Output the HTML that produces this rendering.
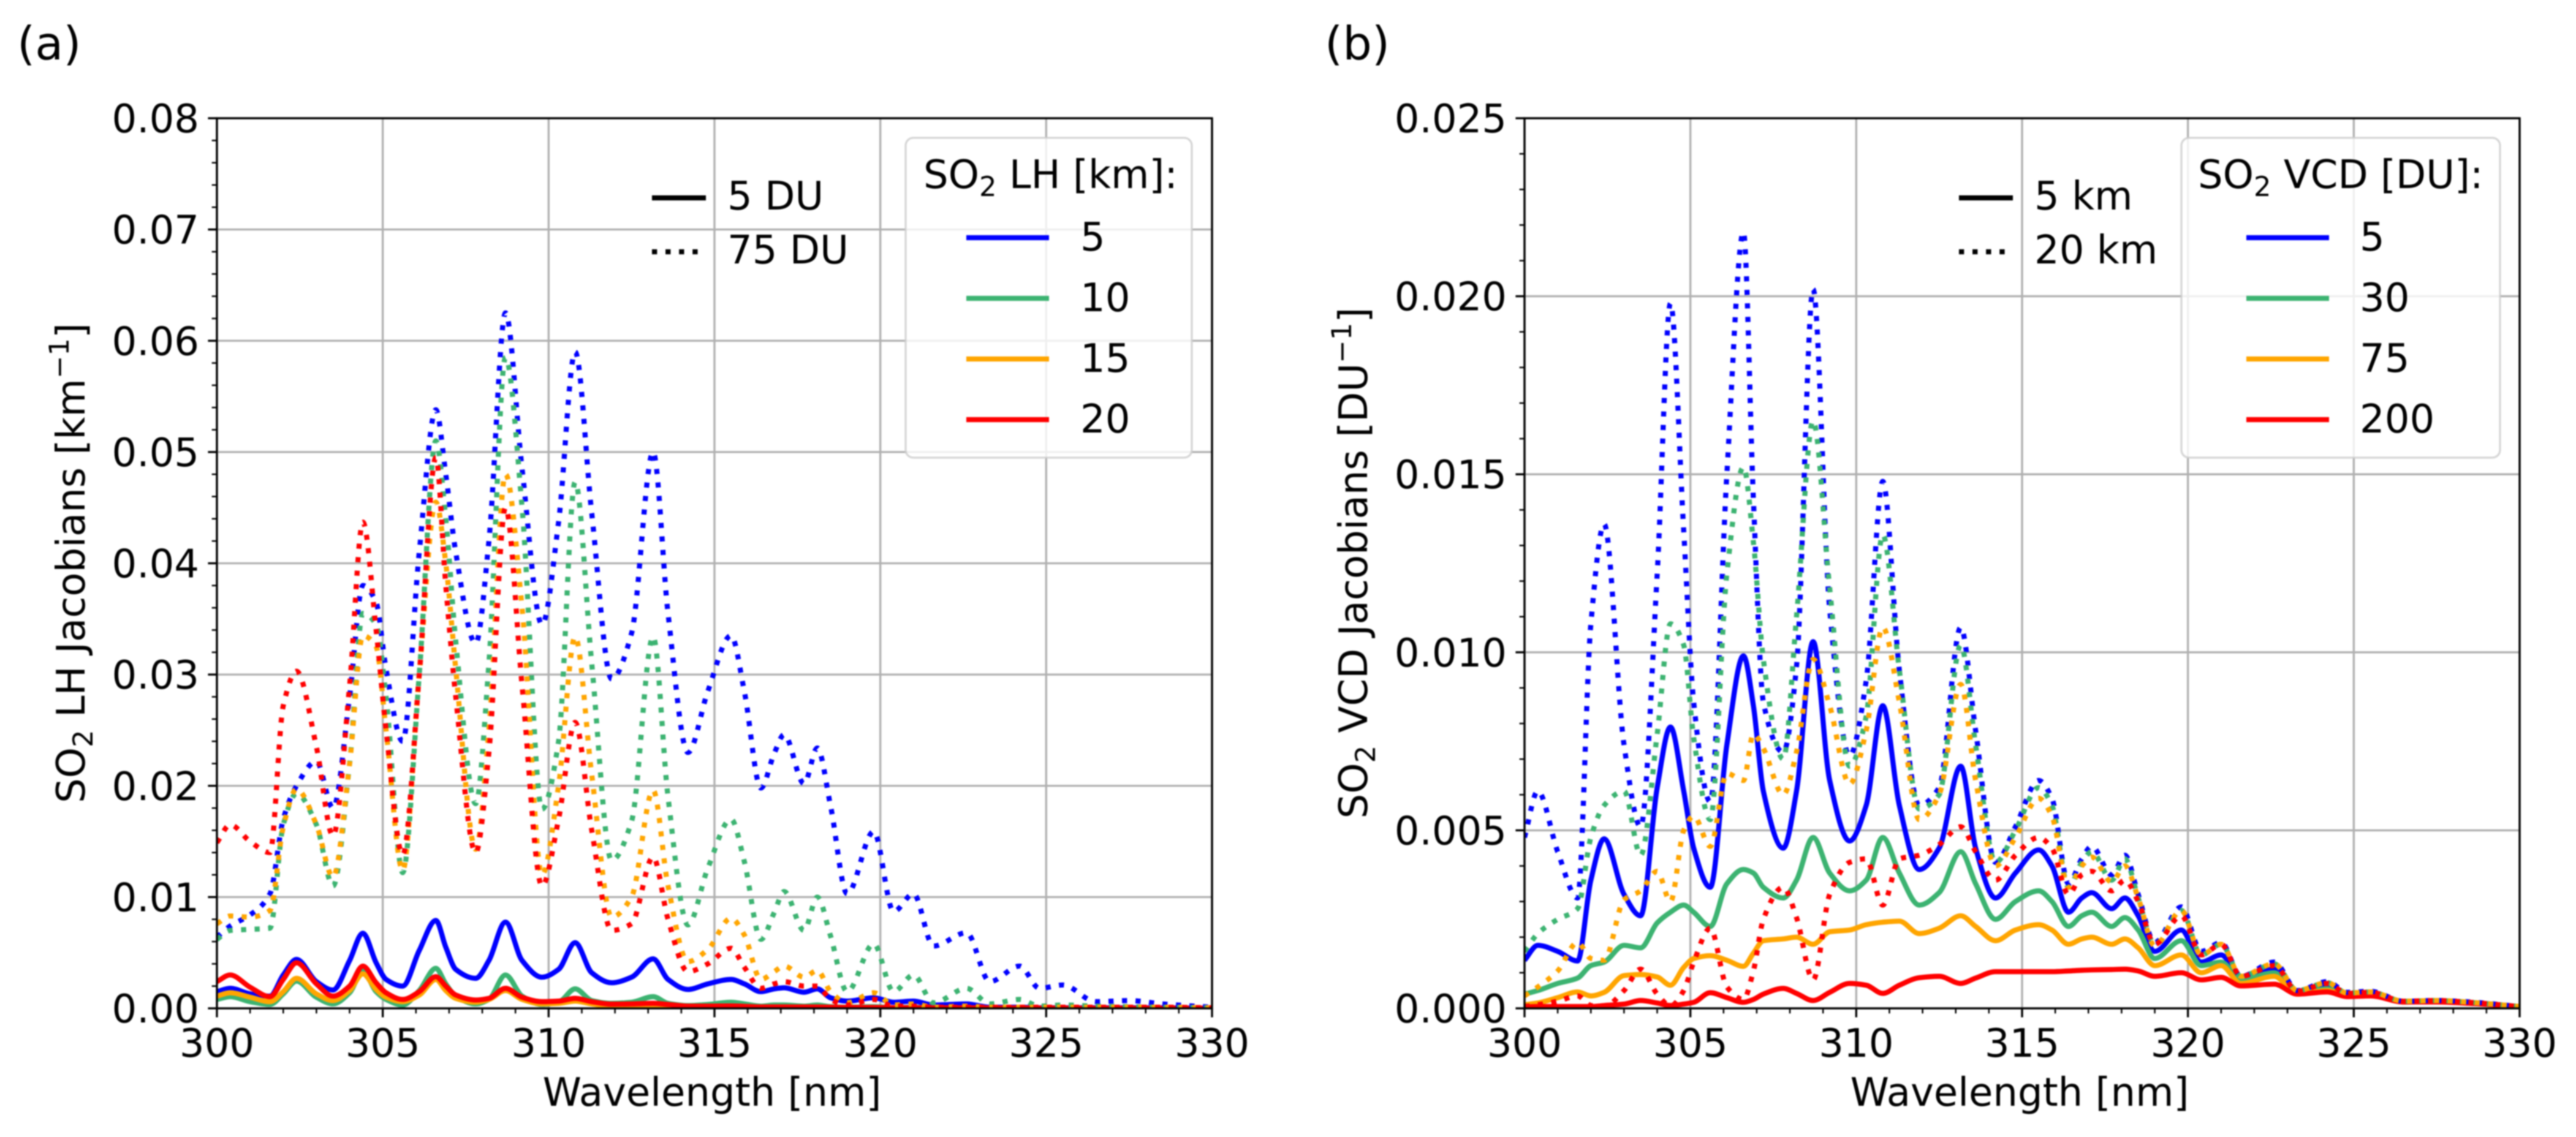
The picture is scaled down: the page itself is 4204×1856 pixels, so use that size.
<!DOCTYPE html>
<html lang="en">
<head>
<meta charset="utf-8">
<title>SO2 LH and VCD Jacobians</title>
<style>
  html, body { margin: 0; padding: 0; background: #fff; }
  svg { display: block; filter: blur(1.1px); }
  text { font-family: "DejaVu Sans", "Liberation Sans", sans-serif; fill: #000; }
</style>
</head>
<body>
<svg id="figure" xmlns="http://www.w3.org/2000/svg" width="4204" height="1856" viewBox="0 0 4204 1856">
  <rect x="0" y="0" width="4204" height="1856" fill="#fff"/>
  <g id="panel-a"></g>
  <g id="panel-b"></g>
</svg>
<script>
const wavelengths = [
  300,300.4,301,301.6,302,302.4,303,303.5,304,304.4,
  304.8,305.1,305.6,306.1,306.6,306.9,307.2,307.8,308.2,308.7,
  309.2,309.8,310.3,310.8,311.3,311.9,312.5,313.15,313.6,314.2,
  314.8,315.5,315.9,316.4,316.8,317.1,317.7,318.1,318.5,319,
  319.8,320.4,321,321.6,322.6,323.3,324.2,324.8,325.5,326.5,
  327.5,328.5,330];

// Panel (a) SO2 LH Jacobians, values in 10^-3 km^-1
const aSolidLh5 = [
  1.5,1.8,1.3,1.1,3,4.4,2.4,1.65,4.3,6.75,
  4.1,2.6,2,5.2,7.9,5.5,3.5,2.7,4.3,7.75,
  4.3,2.8,3.5,5.9,3.2,2.3,2.8,4.45,2.6,1.7,
  2.2,2.6,2.2,1.5,1.75,1.85,1.45,1.75,.95,.65,
  .95,.55,.65,.3,.4,.1,.1,.05,.05,.05,
  .05,.05,.02];
const aSolidLh10 = [
  .8,1.05,.6,.35,1.3,2.45,1,.4,1.4,3.35,
  1.5,.8,.3,1.6,3.6,2.2,1.1,.4,.8,3,
  1.1,.35,.55,1.75,.7,.45,.55,1.05,.45,.25,
  .35,.55,.4,.2,.3,.3,.2,.3,.15,.1,
  .15,.05,.1,.03,.05,.03,.03,.02,.02,.02,
  .02,.02,.01];
const aSolidLh15 = [
  1.1,1.4,1,.6,1.5,2.7,1.3,.7,1.6,3.1,
  1.7,1,.6,1.2,2.6,1.6,.9,.55,.8,1.6,
  .8,.4,.45,.65,.4,.2,.2,.25,.15,.1,
  .1,.15,.1,.06,.07,.08,.06,.07,.05,.04,
  .05,.03,.03,.02,.02,.02,.02,.02,.01,.01,
  .01,.01,.01];
const aSolidLh20 = [
  2.4,3,1.9,1.05,2.6,4.1,2.2,1.1,2,3.8,
  2.3,1.4,.8,1.5,2.85,2,1.2,.75,.9,1.8,
  1,.6,.65,.9,.6,.38,.4,.45,.35,.2,
  .2,.22,.18,.12,.13,.13,.12,.12,.1,.08,
  .08,.06,.06,.05,.05,.04,.04,.03,.03,.02,
  .02,.02,.01];
const aDottedLh5 = [
  6.4,7.4,8.4,10.3,17,20,22.2,18,28,38,
  36.5,30.5,24,41,53.8,48,41,32.8,42,62.5,
  48.5,34.5,43.7,59,44.5,29.6,33.7,50,35.5,23,
  28.5,33.5,28.5,19.8,22.9,24.6,20.2,23.4,18.2,10.3,
  15.9,8.7,10.3,5.6,6.8,2.4,3.8,1.8,2.1,.6,
  .7,.4,.1];
const aDottedLh10 = [
  6.2,7,7.1,7.2,16.5,19.3,16.5,11,22,35.5,
  34.5,28,12.2,30,51,44,33,18.4,31,58.5,
  45,17.9,24,47.3,31,13.3,16.8,33.4,19,7.5,
  12.6,17,13.2,6.2,8.6,10.5,7,10,6.5,1.5,
  5.8,1.5,3,.5,1.8,.4,.8,.2,.3,.2,
  .15,.1,.05];
const aDottedLh15 = [
  7.6,8.3,8.2,8.8,16.3,19.7,16.5,11.8,22,33.5,
  32.5,25,12.4,30,45.5,40,30.5,14.3,25,48,
  36,12,20,33.4,21,8.2,10,19.6,11,4.2,
  5.3,8.1,6.6,2.6,3.3,3.8,2.8,3.4,1.5,.5,
  1.4,.3,.4,.1,.2,.1,.1,.1,.1,.1,
  .1,.1,.05];
const aDottedLh20 = [
  14.9,16.5,15,14,27.2,30.3,23.5,15.5,29,43.7,
  34,25,13.8,30,49.5,38,28,14,23,45,
  29,11,17,25.7,16,7,7.6,13.6,8,3.3,
  4,5.4,3.7,1.8,2.2,2.4,2,2,.8,.3,
  .8,.2,.2,.1,.1,.1,.1,.1,.1,.1,
  .1,.1,.05];

// Panel (b) SO2 VCD Jacobians, values in 10^-3 DU^-1
const bSolidVcd5 = [
  1.35,1.77,1.6,1.33,3.6,4.76,3.2,2.6,6.2,7.9,
  6.1,4.5,3.4,7.4,9.9,8.5,6.1,4.5,6.1,10.3,
  6.4,4.7,5.7,8.5,5.7,3.9,4.5,6.8,4.5,3.1,
  3.8,4.45,4,2.7,3.1,3.25,2.8,3.1,2.6,1.6,
  2.2,1.3,1.5,.9,1.1,.45,.6,.4,.42,.18,
  .2,.16,.05];
const bSolidVcd30 = [
  .4,.5,.7,.85,1.2,1.3,1.77,1.7,2.4,2.7,
  2.9,2.7,2.3,3.5,3.9,3.8,3.4,3.1,3.6,4.8,
  3.8,3.3,3.6,4.8,3.8,2.9,3.25,4.4,3.5,2.5,
  3,3.3,3,2.3,2.6,2.7,2.3,2.55,2.2,1.4,
  1.9,1.2,1.3,.8,1,.42,.55,.38,.4,.18,
  .2,.15,.05];
const bSolidVcd75 = [
  .1,.15,.3,.46,.35,.45,.92,.95,.88,.65,
  1.15,1.4,1.48,1.35,1.18,1.55,1.9,1.95,2,1.8,
  2.15,2.2,2.35,2.42,2.45,2.1,2.25,2.6,2.3,1.9,
  2.2,2.35,2.2,1.8,1.95,2,1.8,1.95,1.7,1.2,
  1.5,1,1.2,.7,.9,.4,.5,.35,.38,.18,
  .2,.15,.05];
const bSolidVcd200 = [
  .04,.05,.05,.05,.05,.08,.12,.22,.15,.08,
  .12,.17,.44,.3,.17,.25,.4,.56,.42,.22,
  .45,.7,.65,.42,.65,.86,.9,.7,.85,1.03,
  1.03,1.03,1.03,1.05,1.07,1.08,1.09,1.1,1.05,.9,
  1,.8,.87,.63,.68,.4,.46,.33,.35,.18,
  .18,.14,.05];
const bDottedVcd5 = [
  4.8,6.1,4.4,3.1,10.8,13.6,7.4,5.1,12.2,19.8,
  13.4,8.6,5.8,15,21.8,14.3,8.6,7.2,9.6,20.2,
  11.2,7.1,9.2,14.8,9.5,5.7,6.2,10.7,7.8,4.1,
  5.1,6.4,5.9,3.5,4.2,4.55,3.75,4.3,3.2,1.85,
  2.85,1.6,1.85,.9,1.3,.5,.75,.45,.48,.2,
  .22,.18,.05];
const bDottedVcd30 = [
  1.6,2.1,2.5,2.8,4.8,5.7,6.1,4.3,7.7,10.8,
  10.2,7.6,5.3,12.2,15.2,13.1,9.8,7,11,16.5,
  11.8,6.8,8.2,13.3,9.5,5.6,6,10.2,7.4,4.1,
  5,6.2,5.7,3.4,4.1,4.4,3.6,4.2,3.1,1.8,
  2.75,1.5,1.8,.9,1.25,.5,.72,.43,.46,.2,
  .22,.17,.05];
const bDottedVcd75 = [
  .35,.6,1.05,1.85,1.4,1.35,3.05,3.3,3.85,3,
  5,5.4,4.55,6.6,6.4,7.7,7.3,6,7.2,9.8,
  8.5,6.3,7.8,10.7,8.6,5.3,6,9.1,6.4,4,
  4.8,5.9,5.4,3.4,4,4.25,3.55,4,3.1,1.75,
  2.75,1.5,1.8,.9,1.25,.5,.72,.43,.46,.2,
  .22,.17,.05];
const bDottedVcd200 = [
  .05,.1,.2,.35,.08,.05,.5,1.1,.4,.07,
  .5,1.3,2.25,.6,.25,1.05,2.5,3.4,2.55,.8,
  3.2,4.1,4.2,2.9,4.2,4.3,4.6,5.1,4.4,3.6,
  4.3,4.8,4.5,3.2,3.75,3.85,3.3,3.6,3,1.8,
  2.6,1.5,1.8,.9,1.2,.48,.7,.42,.45,.2,
  .22,.17,.05];

// Axis ticks and labels
const xMajorTicks = [300,305,310,315,320,325,330];
const xMinorTicks = [301,302,303,304,306,307,308,309,311,312,313,314,316,317,318,319,321,322,323,324,326,327,328,329];
const aYTicks = [0,10,20,30,40,50,60,70,80];
const aYTickLabels = ['0.00','0.01','0.02','0.03','0.04','0.05','0.06','0.07','0.08'];
const aYMinorTicks = [2,4,6,8,12,14,16,18,22,24,26,28,32,34,36,38,42,44,46,48,52,54,56,58,62,64,66,68,72,74,76,78];
const bYTicks = [0,5,10,15,20,25];
const bYTickLabels = ['0.000','0.005','0.010','0.015','0.020','0.025'];
const bYMinorTicks = [1,2,3,4,6,7,8,9,11,12,13,14,16,17,18,19,21,22,23,24];

// Legend text
const aLegendLabels = ['5','10','15','20'];
const bLegendLabels = ['5','30','75','200'];
const aStyleLabels = ['5 DU','75 DU'];
const bStyleLabels = ['5 km','20 km'];
const seriesColors = ['#0000ff','#3cb371','#ffa500','#ff0000'];

const SVG_NS = 'http://www.w3.org/2000/svg';
const FONT = 64, LW = 8.33, DOTS = '8.33 13.75', GRID_W = 3.33, SPINE_W = 3.33;
const TOP = 193, BOTTOM = 1646;

function make(parent, tag, attrs, txt) {
  const el = document.createElementNS(SVG_NS, tag);
  for (const k in attrs) el.setAttribute(k, attrs[k]);
  if (txt !== undefined) el.textContent = txt;
  parent.appendChild(el);
  return el;
}

// Monotone cubic path through the read knots, so peaks do not overshoot.
function monotonePath(xs, ys) {
  const n = xs.length, d = [], m = [];
  for (let i = 0; i < n - 1; i++) d.push((ys[i + 1] - ys[i]) / (xs[i + 1] - xs[i]));
  m.push(d[0]);
  for (let i = 1; i < n - 1; i++) {
    if (d[i - 1] * d[i] <= 0) { m.push(0); continue; }
    const h0 = xs[i] - xs[i - 1], h1 = xs[i + 1] - xs[i];
    m.push(3 * (h0 + h1) / ((2 * h1 + h0) / d[i - 1] + (h1 + 2 * h0) / d[i]));
  }
  m.push(d[n - 2]);
  let p = 'M' + xs[0].toFixed(2) + ' ' + ys[0].toFixed(2);
  for (let i = 0; i < n - 1; i++) {
    const h = (xs[i + 1] - xs[i]) / 3;
    p += 'C' + (xs[i] + h).toFixed(2) + ' ' + (ys[i] + m[i] * h).toFixed(2) + ' '
      + (xs[i + 1] - h).toFixed(2) + ' ' + (ys[i + 1] - m[i + 1] * h).toFixed(2) + ' '
      + xs[i + 1].toFixed(2) + ' ' + ys[i + 1].toFixed(2);
  }
  return p;
}

function drawMathText(parent, attrs, parts) {
  const t = make(parent, 'text', attrs);
  let shift = 0;
  parts.forEach(function (part) {
    const a = {};
    const target = part.sub ? 13 : part.sup ? -26 : 0;
    if (target !== shift) a.dy = target - shift;
    shift = target;
    if (part.sub || part.sup) a['font-size'] = FONT * 0.7;
    make(t, 'tspan', a, part.t);
  });
  return t;
}

function drawPanel(cfg) {
  const g = document.getElementById(cfg.id);
  const left = cfg.left, right = cfg.right;
  const xScale = function (v) { return left + (v - 300) / 30 * (right - left); };
  const yScale = function (v) { return BOTTOM - v / cfg.yMax * (BOTTOM - TOP); };

  const clipId = cfg.id + '-clip';
  const defs = make(g, 'defs', {});
  const clip = make(defs, 'clipPath', { id: clipId });
  make(clip, 'rect', { x: left, y: TOP, width: right - left, height: BOTTOM - TOP });

  const grid = make(g, 'g', { stroke: '#b0b0b0', 'stroke-width': GRID_W });
  
  
  xMajorTicks.forEach(function (v) {
    const ln = make(grid, 'line', { x1: xScale(v), x2: xScale(v), y1: TOP, y2: BOTTOM });
    
    
  });
  cfg.yTicks.forEach(function (v) {
    const ln = make(grid, 'line', { x1: left, x2: right, y1: yScale(v), y2: yScale(v) });
    
    
  });

  const plot = make(g, 'g', { 'clip-path': 'url(#' + clipId + ')', fill: 'none', 'stroke-width': LW });
  
  
  const xs = wavelengths.map(xScale);
  cfg.solid.forEach(function (vals, i) {
    const path = make(plot, 'path', { d: monotonePath(xs, vals.map(yScale)), stroke: seriesColors[i] });
    
    
  });
  cfg.dotted.forEach(function (vals, i) {
    const path = make(plot, 'path', { d: monotonePath(xs, vals.map(yScale)), stroke: seriesColors[i], 'stroke-dasharray': DOTS });
    
    
  });

  const ticks = make(g, 'g', { stroke: '#000' });
  
  
  xMajorTicks.forEach(function (v) {
    make(ticks, 'line', { x1: xScale(v), x2: xScale(v), y1: BOTTOM, y2: BOTTOM + 14.6, 'stroke-width': 3.33 });
  });
  xMinorTicks.forEach(function (v) {
    make(ticks, 'line', { x1: xScale(v), x2: xScale(v), y1: BOTTOM, y2: BOTTOM + 8.3, 'stroke-width': 2.5 });
  });
  cfg.yTicks.forEach(function (v) {
    make(ticks, 'line', { x1: left, x2: left - 14.6, y1: yScale(v), y2: yScale(v), 'stroke-width': 3.33 });
  });
  cfg.yMinor.forEach(function (v) {
    make(ticks, 'line', { x1: left, x2: left - 8.3, y1: yScale(v), y2: yScale(v), 'stroke-width': 2.5 });
  });

  const frame = make(g, 'rect', { x: left, y: TOP, width: right - left, height: BOTTOM - TOP, fill: 'none', stroke: '#000', 'stroke-width': SPINE_W });
  
  

  xMajorTicks.forEach(function (v) {
    const t = make(g, 'text', { x: xScale(v), y: 1725, 'font-size': FONT, 'text-anchor': 'middle' }, String(v));
    
    
  });
  cfg.yTicks.forEach(function (v, i) {
    const t = make(g, 'text', { x: left - 29, y: yScale(v) + 23, 'font-size': FONT, 'text-anchor': 'end' }, cfg.yTickLabels[i]);
    
    
  });

  const xTitle = make(g, 'text', { x: (left + right) / 2 - 4, y: 1805, 'font-size': FONT, 'text-anchor': 'middle' }, 'Wavelength [nm]');
  
  

  const yTitle = drawMathText(g, {
    x: 0, y: 0, 'font-size': FONT, 'text-anchor': 'middle',
    transform: 'translate(' + cfg.yTitleX + ' 919) rotate(-90)'
  }, cfg.yTitleParts);
  
  

  const letter = make(g, 'text', { x: cfg.letterX, y: 97, 'font-size': 75 }, cfg.letter);
  
  

  // Line-style key (solid versus dotted)
  const key = make(g, 'g', {});
  
  
  make(key, 'line', { x1: cfg.keyX, x2: cfg.keyX + 88, y1: 323, y2: 323, stroke: '#000', 'stroke-width': LW });
  make(key, 'line', { x1: cfg.keyX, x2: cfg.keyX + 88, y1: 411, y2: 411, stroke: '#000', 'stroke-width': LW, 'stroke-dasharray': DOTS });
  make(key, 'text', { x: cfg.keyX + 123, y: 342, 'font-size': FONT }, cfg.styleLabels[0]);
  make(key, 'text', { x: cfg.keyX + 123, y: 430, 'font-size': FONT }, cfg.styleLabels[1]);

  // Colour legend
  const leg = make(g, 'g', {});
  
  
  make(leg, 'rect', {
    x: cfg.legX, y: 225, width: cfg.legW, height: 522, rx: 12.5, ry: 12.5,
    fill: 'rgba(255,255,255,0.8)', stroke: 'rgba(204,204,204,0.8)', 'stroke-width': 3.33
  });
  const legTitle = drawMathText(leg, { x: cfg.legTitleX, y: 307, 'font-size': FONT }, cfg.legTitleParts);
  
  
  cfg.labels.forEach(function (label, i) {
    const row = make(leg, 'g', {});
    
    
    const yy = 388 + i * 99;
    make(row, 'line', { x1: cfg.legHandleX, x2: cfg.legHandleX + 135, y1: yy, y2: yy, stroke: seriesColors[i], 'stroke-width': LW });
    make(row, 'text', { x: cfg.legTextX, y: yy + 21, 'font-size': FONT }, label);
  });
}

drawPanel({
  id: 'panel-a', left: 354, right: 1978, yMax: 80,
  yTicks: aYTicks, yTickLabels: aYTickLabels, yMinor: aYMinorTicks,
  solid: [aSolidLh5, aSolidLh10, aSolidLh15, aSolidLh20],
  dotted: [aDottedLh5, aDottedLh10, aDottedLh15, aDottedLh20],
  labels: aLegendLabels, styleLabels: aStyleLabels,
  letter: '(a)', letterX: 28,
  yTitleX: 138,
  yTitleParts: [{ t: 'SO' }, { t: '2', sub: true }, { t: ' LH Jacobians [km' }, { t: '\u22121', sup: true }, { t: ']' }],
  keyX: 1064,
  legX: 1478, legW: 467, legTitleX: 1507, legHandleX: 1577, legTextX: 1763,
  legTitleParts: [{ t: 'SO' }, { t: '2', sub: true }, { t: ' LH [km]:' }]
});

drawPanel({
  id: 'panel-b', left: 2488, right: 4112, yMax: 25,
  yTicks: bYTicks, yTickLabels: bYTickLabels, yMinor: bYMinorTicks,
  solid: [bSolidVcd5, bSolidVcd30, bSolidVcd75, bSolidVcd200],
  dotted: [bDottedVcd5, bDottedVcd30, bDottedVcd75, bDottedVcd200],
  labels: bLegendLabels, styleLabels: bStyleLabels,
  letter: '(b)', letterX: 2162,
  yTitleX: 2231,
  yTitleParts: [{ t: 'SO' }, { t: '2', sub: true }, { t: ' VCD Jacobians [DU' }, { t: '\u22121', sup: true }, { t: ']' }],
  keyX: 3197,
  legX: 3560, legW: 520, legTitleX: 3587, legHandleX: 3666, legTextX: 3851,
  legTitleParts: [{ t: 'SO' }, { t: '2', sub: true }, { t: ' VCD [DU]:' }]
});
</script>
</body>
</html>
